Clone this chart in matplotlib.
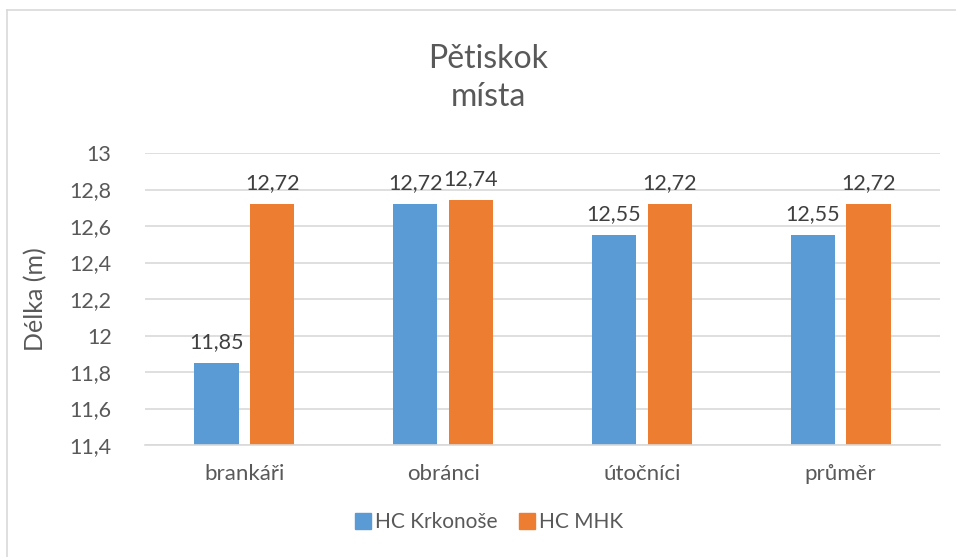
import numpy as np
import matplotlib.pyplot as plt
from matplotlib.lines import Line2D

categories = ["brankáři", "obránci", "útočníci", "průměr"]
krkonose = [11.85, 12.72, 12.55, 12.55]
mhk = [12.72, 12.74, 12.72, 12.72]
series_names = ["HC Krkonoše", "HC MHK"]
yticks = [11.4, 11.6, 11.8, 12.0, 12.2, 12.4, 12.6, 12.8, 13.0]

BLUE = "#5B9BD5"
ORANGE = "#ED7D31"
TEXT = "#595959"
GRID = "#D9D9D9"

plt.rcParams['font.family'] = ['Lato', 'DejaVu Sans']


def fmt(v):
    s = f"{v:.2f}".rstrip('0').rstrip('.') if v != int(v) else f"{int(v)}"
    return s.replace('.', ',')


fig = plt.figure(figsize=(9.56, 5.57), dpi=100)
ax = fig.add_axes([145 / 956, 1 - 445 / 557, 795 / 956, 292 / 557])

x = np.arange(len(categories))
w = 0.222
off = 0.14
b1 = ax.bar(x - off, krkonose, w, color=BLUE, label=series_names[0], zorder=2)
b2 = ax.bar(x + off, mhk, w, color=ORANGE, label=series_names[1], zorder=2)

for bars in (b1, b2):
    for r in bars:
        v = r.get_height()
        ax.annotate(f"{v:.2f}".replace('.', ','), (r.get_x() + r.get_width() / 2, v),
                    xytext=(0, 8), textcoords="offset points", ha="center", va="bottom",
                    fontsize=15.5, color="#404040")

ax.set_ylim(11.4, 13.0)
ax.set_xlim(-0.5, len(categories) - 0.5)
ax.set_yticks(yticks)
ax.set_yticklabels([fmt(t) for t in yticks], fontsize=15.5, color=TEXT)
ax.set_xticks(x)
ax.set_xticklabels(categories, fontsize=16, color=TEXT)
ax.tick_params(length=0)
ax.tick_params(axis='y', pad=24)
ax.tick_params(axis='x', pad=14)
ax.yaxis.grid(True, color=GRID, linewidth=1.2, zorder=0)
ax.set_axisbelow(True)
for s in ("top", "right", "left"):
    ax.spines[s].set_visible(False)
ax.spines["bottom"].set_color(GRID)
ax.spines["bottom"].set_linewidth(1.2)
ax.set_ylabel("Délka (m)", fontsize=18, color=TEXT)
ax.yaxis.set_label_coords(-0.138 + 12 / 795, 0.5)

fig.text(488 / 956, 1 - 78 / 557, "Pětiskok\nmísta", ha="center", va="center",
         fontsize=23, color=TEXT, linespacing=1.3)

handles = [Line2D([0], [0], marker='s', linestyle='none', markersize=11,
                  markerfacecolor=c, markeredgecolor=c) for c in (BLUE, ORANGE)]
fig.legend(handles, series_names, loc="center", bbox_to_anchor=(488 / 956, 1 - 522 / 557),
           ncol=2, frameon=False, fontsize=15, handletextpad=0.1, columnspacing=0.9,
           labelcolor=TEXT, handlelength=1.0)

fig.add_artist(Line2D([7 / 956, 7 / 956], [0, 1 - 10 / 557], transform=fig.transFigure,
                      color=GRID, linewidth=1.2))
fig.add_artist(Line2D([7 / 956, 1], [1 - 10 / 557, 1 - 10 / 557], transform=fig.transFigure,
                      color=GRID, linewidth=1.2))

fig.savefig("out.png", dpi=100)
